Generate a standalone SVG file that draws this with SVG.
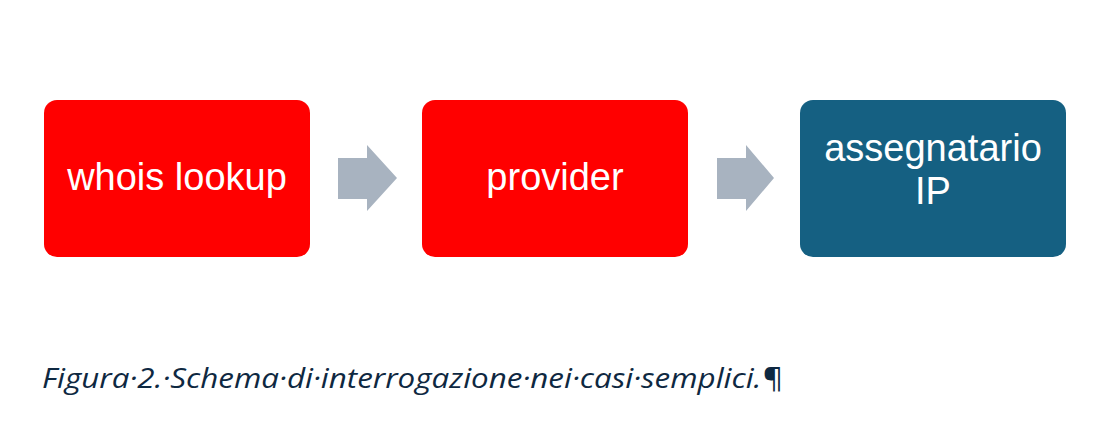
<svg xmlns="http://www.w3.org/2000/svg" width="1108" height="439" viewBox="0 0 1108 439">
<style>
.lbl{font-family:"Liberation Sans","Open Sans",sans-serif;font-size:38px;fill:#ffffff;text-anchor:middle}
.arr{fill:#a8b3c0}
.cap{font-family:"Open Sans","Liberation Sans",sans-serif;font-style:italic;font-size:28px;fill:#0e2841}
</style>
<rect width="1108" height="439" fill="#ffffff"/>
<g id="connectors">
<polygon class="arr" points="338,158 367,158 367,145 397,178 367,211 367,199 338,199"/>
<polygon class="arr" points="717,158 746,158 746,145 774,178 746,211 746,199 717,199"/>
</g>
<g id="node-whois">
<rect x="44" y="100" width="266" height="157" rx="13" fill="#ff0000"/>
<text class="lbl" x="177" y="190">whois lookup</text>
</g>
<g id="node-provider">
<rect x="422" y="100" width="266" height="157" rx="13" fill="#ff0000"/>
<text class="lbl" x="555" y="190">provider</text>
</g>
<g id="node-assegnatario">
<rect x="800" y="100" width="266" height="157" rx="13" fill="#156082"/>
<text class="lbl" x="933" y="161"><tspan x="933" y="161">assegnatario</tspan><tspan x="933" y="204">IP</tspan></text>
</g>
<text class="cap" x="42" y="388" textLength="740" lengthAdjust="spacingAndGlyphs">Figura·2.·Schema·di·interrogazione·nei·casi·semplici.¶</text>
</svg>
